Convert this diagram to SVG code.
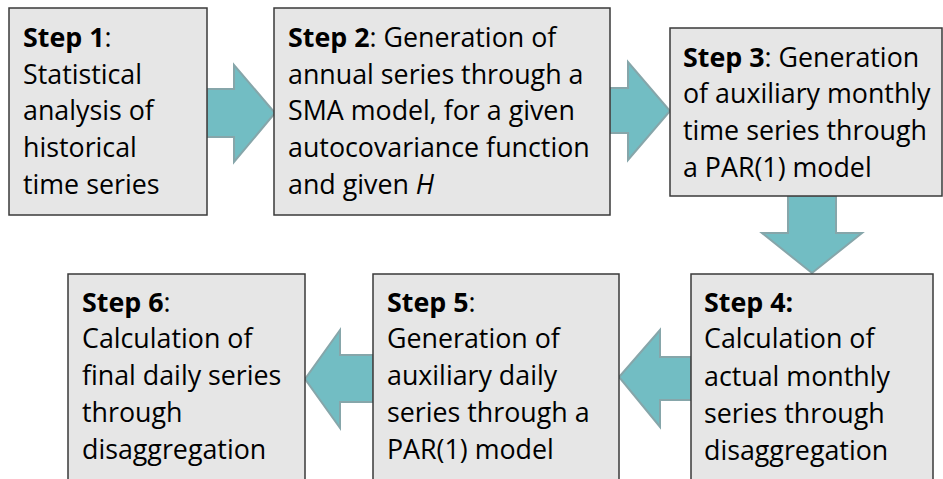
<svg xmlns="http://www.w3.org/2000/svg" width="943" height="479" viewBox="0 0 943 479">
<style>
.box{fill:#e6e6e6;stroke:#3a3a3a;stroke-width:1.5}
.arr{fill:#72bdc3;stroke:#86a6aa;stroke-width:2;stroke-linejoin:miter}
text{font-family:"Open Sans","Noto Sans","Liberation Sans",sans-serif;font-size:26.8px;fill:#000}
.b{font-weight:bold}
</style>
<rect width="943" height="479" fill="#ffffff"/>
<g id="connectors">
<polygon class="arr" points="207,89 234,89 234,65 275,113 234,162 234,137 207,137"/>
<polygon class="arr" points="610,88 628,88 628,62 670,111 628,160 628,133 610,133"/>
<polygon class="arr" points="788,196 836,196 836,233 862,233 812,273 762,233 788,233"/>
<polygon class="arr" points="691,357 660,357 660,330 619,377 660,427 660,400 691,400"/>
<polygon class="arr" points="373,355 340,355 340,330 305,379 340,428 340,402 373,402"/>
</g>
<g id="step1">
<rect class="box" x="9" y="8" width="198" height="207"/>
<text x="23" y="47"><tspan class="b">Step 1</tspan>:</text>
<text x="23" y="84">Statistical</text>
<text x="23" y="120">analysis of</text>
<text x="23" y="157">historical</text>
<text x="23" y="194">time series</text>
</g>
<g id="step2">
<rect class="box" x="274" y="8" width="336" height="207"/>
<text x="288" y="47"><tspan class="b">Step 2</tspan>: Generation of</text>
<text x="288" y="84">annual series through a</text>
<text x="288" y="120">SMA model, for a given</text>
<text x="288" y="157">autocovariance function</text>
<text x="288" y="194">and given <tspan font-style="italic">H</tspan></text>
</g>
<g id="step3">
<rect class="box" x="670" y="28" width="272" height="168"/>
<text x="683" y="67"><tspan class="b">Step 3</tspan>: Generation</text>
<text x="683" y="103">of auxiliary monthly</text>
<text x="683" y="140">time series through</text>
<text x="683" y="177">a PAR(1) model</text>
</g>
<g id="step4">
<rect class="box" x="691" y="274" width="242" height="215"/>
<text x="704" y="312" class="b">Step 4:</text>
<text x="704" y="348">Calculation of</text>
<text x="704" y="386">actual monthly</text>
<text x="704" y="423">series through</text>
<text x="704" y="460">disaggregation</text>
</g>
<g id="step5">
<rect class="box" x="373" y="274" width="246" height="215"/>
<text x="387" y="312"><tspan class="b">Step 5</tspan>:</text>
<text x="387" y="348">Generation of</text>
<text x="387" y="385">auxiliary daily</text>
<text x="387" y="422">series through a</text>
<text x="387" y="459">PAR(1) model</text>
</g>
<g id="step6">
<rect class="box" x="68" y="274" width="237" height="215"/>
<text x="82" y="312"><tspan class="b">Step 6</tspan>:</text>
<text x="82" y="348">Calculation of</text>
<text x="82" y="385">final daily series</text>
<text x="82" y="422">through</text>
<text x="82" y="459">disaggregation</text>
</g>
</svg>
